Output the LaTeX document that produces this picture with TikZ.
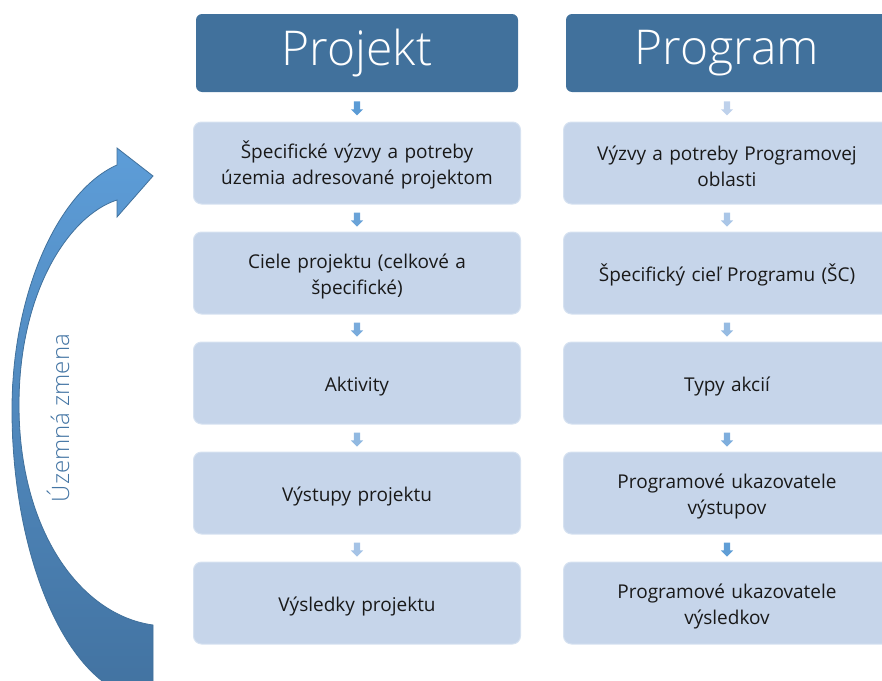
\documentclass[tikz,border=0pt]{standalone}
\usepackage{fontspec}
\setmainfont{Open Sans}
\IfFontExistsTF{Open Sans Light}
  {\newfontfamily\thinfont{Open Sans Light}}
  {\newfontfamily\thinfont{Open Sans}}
\usetikzlibrary{calc,shapes.arrows}
\definecolor{hdrblue}{RGB}{65,113,156}
\definecolor{boxfill}{RGB}{198,213,234}
\definecolor{boxline}{RGB}{214,226,241}
\definecolor{arrdark}{RGB}{91,155,213}
\definecolor{arrlight}{RGB}{190,209,235}
\definecolor{curvetop}{RGB}{93,157,216}
\definecolor{curvebot}{RGB}{66,114,160}
\definecolor{curveline}{RGB}{65,113,156}
\definecolor{labelblue}{RGB}{68,117,164}
\tikzset{
  header/.style={fill=hdrblue, rounded corners=6pt, minimum width=322pt,
    minimum height=78pt, inner sep=0pt, text=white,
    font=\thinfont\fontsize{48}{56}\selectfont},
  stagebox/.style={fill=boxfill, draw=boxline, line width=1pt, rounded corners=8pt,
    minimum width=327pt, minimum height=82pt, inner sep=0pt, align=center,
    text width=310pt, text=black!90, font=\fontsize{19}{26}\selectfont,
    execute at begin node={\rule{0pt}{22pt}}},
  downarrow/.style={single arrow, shape border rotate=270, minimum height=14pt,
    inner xsep=3pt, inner ysep=4pt, single arrow head extend=3pt,
    single arrow tip angle=90, draw=none},
}
\begin{document}
\begin{tikzpicture}[x=1pt,y=-1pt]
\useasboundingbox (0,0) rectangle (882,680);
\clip (0,0) rectangle (882,680);

% column headers
\node[header] (hproj) at (357,53) {Projekt};
\node[header] (hprog) at (727,53) {Program};

% project column
\node[stagebox] (p1) at (357,163) {Špecifické výzvy a potreby\\územia adresované projektom};
\node[stagebox] (p2) at (357,273) {Ciele projektu (celkové a\\špecifické)};
\node[stagebox] (p3) at (357,383) {Aktivity};
\node[stagebox] (p4) at (357,493) {Výstupy projektu};
\node[stagebox] (p5) at (357,603) {Výsledky projektu};

% programme column
\node[stagebox] (g1) at (727,163) {Výzvy a potreby Programovej\\oblasti};
\node[stagebox] (g2) at (727,273) {Špecifický cieľ Programu (ŠC)};
\node[stagebox] (g3) at (727,383) {Typy akcií};
\node[stagebox] (g4) at (727,493) {Programové ukazovatele\\výstupov};
\node[stagebox] (g5) at (727,603) {Programové ukazovatele\\výsledkov};

% step arrows, fading down the project column and darkening down the programme column
\node[downarrow, fill=arrdark]              (pa1) at ($(hproj.south)!0.5!(p1.north)$) {};
\node[downarrow, fill=arrlight!15!arrdark]  (pa2) at ($(p1.south)!0.5!(p2.north)$) {};
\node[downarrow, fill=arrlight!30!arrdark]  (pa3) at ($(p2.south)!0.5!(p3.north)$) {};
\node[downarrow, fill=arrlight!55!arrdark]  (pa4) at ($(p3.south)!0.5!(p4.north)$) {};
\node[downarrow, fill=arrlight!75!arrdark]  (pa5) at ($(p4.south)!0.5!(p5.north)$) {};

\node[downarrow, fill=arrlight]             (ga1) at ($(hprog.south)!0.5!(g1.north)$) {};
\node[downarrow, fill=arrlight!80!arrdark]  (ga2) at ($(g1.south)!0.5!(g2.north)$) {};
\node[downarrow, fill=arrlight!60!arrdark]  (ga3) at ($(g2.south)!0.5!(g3.north)$) {};
\node[downarrow, fill=arrlight!35!arrdark]  (ga4) at ($(g3.south)!0.5!(g4.north)$) {};
\node[downarrow, fill=arrlight!5!arrdark]   (ga5) at ($(g4.south)!0.5!(g5.north)$) {};

% curved arrow for the territorial change
\path[top color=curvetop, bottom color=curvebot, draw=curveline, line width=0.8pt]
  (153,700)
  .. controls (70,700) and (12,560) .. (12,410)
  .. controls (12,290) and (60,190) .. (117,165)
  -- (117,148) -- (153,176) -- (117,217) -- (117,200)
  .. controls (70,215) and (19,290) .. (19,405)
  .. controls (19,530) and (80,615) .. (153,625)
  -- cycle;

\node[rotate=90, text=labelblue, font=\thinfont\fontsize{24}{28}\selectfont] (zmena) at (58,418) {Územná zmena};
\end{tikzpicture}
\end{document}
